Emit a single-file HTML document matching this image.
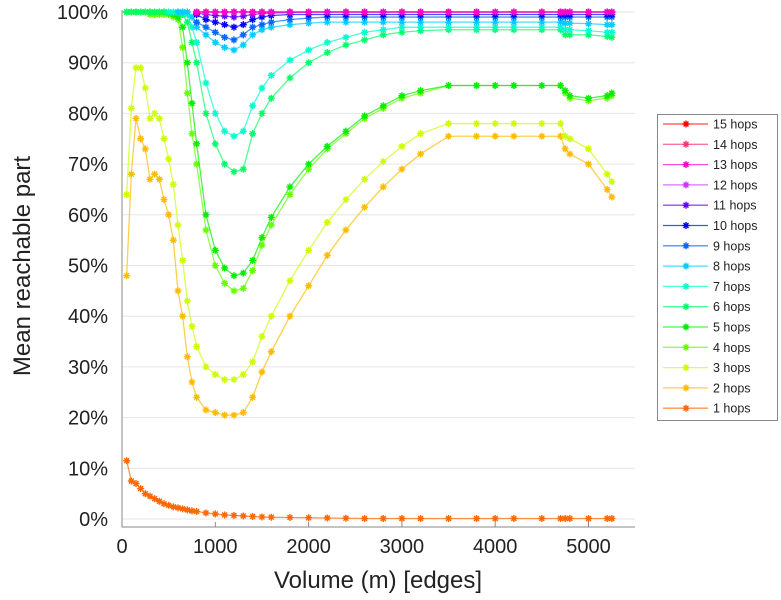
<!DOCTYPE html>
<html><head><meta charset="utf-8">
<style>
body{margin:0;background:#fff;}
svg{display:block;font-family:"Liberation Sans",sans-serif;}
</style></head>
<body>
<svg id="chart" width="781" height="600"></svg>
<script>
const xVals=[50,100,150,200,250,300,350,400,450,500,550,600,650,700,750,800,900,1000,1100,1200,1300,1400,1500,1600,1800,2000,2200,2400,2600,2800,3000,3200,3500,3800,4000,4200,4500,4700,4750,4800,5000,5200,5250];
const s1=[11.5,7.5,7,6,5,4.5,4,3.5,3,2.7,2.4,2.2,2,1.8,1.6,1.5,1.2,1,0.8,0.7,0.6,0.5,0.4,0.35,0.3,0.25,0.2,0.15,0.1,0.1,0.1,0.1,0.1,0.1,0.1,0.1,0.1,0.1,0.1,0.1,0.1,0.1,0.1];
const s2=[48,68,79,75,73,67,68,67,63,60,55,45,40,32,27,24,21.5,21,20.5,20.5,21,24,29,33,40,46,52,57,61.5,65.5,69,72,75.5,75.5,75.5,75.5,75.5,75.5,73,72,70,65,63.5];
const s3=[64,81,89,89,85,79,80,79,75,71,66,58,51,43,38,34,30,28.5,27.5,27.5,28.5,31,36,40,47,53,58.5,63,67,70.5,73.5,76,78,78,78,78,78,78,75.5,75,73,68,66.5];
const s4=[100,100,100,100,100,99.5,99.5,99.5,99.5,99.5,99,98.5,93,84,76,70,57,50,46.5,45,45.5,49,54,58,64,69,73,76,79,81,83,84,85.5,85.5,85.5,85.5,85.5,85.5,84,83,82.5,83,83.5];
const s5=[100,100,100,100,100,100,100,100,100,99.8,99.5,99,97,90,82,74,60,53,49.5,48,48.5,51,55.5,59.5,65.5,70,73.5,76.5,79.5,81.5,83.5,84.5,85.5,85.5,85.5,85.5,85.5,85.5,84.5,83.5,83,83.5,84];
const s6=[100,100,100,100,100,100,100,100,100,100,99.8,99.7,99.5,98,94,90,80,74,70,68.5,69,76,80,83,87,90,92,93.5,94.5,95.5,96,96.3,96.5,96.5,96.5,96.5,96.5,96.5,95.5,95.5,95.5,95.2,95];
const s7=[null,null,null,null,null,null,null,null,null,100,100,100,100,99.5,97,94,86,80,76.5,75.5,76.5,81.5,85,87.5,90.5,92.5,94,95,96,96.5,97,97,97,97,97,97,97,97,96.5,96.5,96.3,96,96];
const s8=[null,null,null,null,null,null,null,null,null,null,null,100,100,100,99,97,95.5,94,93,92.5,93.5,95.5,96.5,97,97.5,97.8,98,98,98,98,98,98,98,98,98,98,98,98,97.8,97.8,97.7,97.5,97.5];
const s9=[null,null,null,null,null,null,null,null,null,null,null,null,null,null,null,98,97,96,95,94.5,95.5,97,97.5,98,98.5,98.8,99,99,99,99,99,99,99,99,99,99,99,99,99,99,99,99,99];
const s10=[null,null,null,null,null,null,null,null,null,null,null,null,null,null,null,99.5,98.5,98,97.5,97,97.5,98.5,99,99.3,99.5,99.5,99.5,99.5,99.5,99.5,99.5,99.5,99.5,99.5,99.5,99.5,99.5,99.5,99.5,99.5,99.5,99.5,99.5];
const s11=[null,null,null,null,null,null,null,null,null,null,null,null,null,null,null,99.8,99.5,99.3,99.2,99,99.2,99.5,99.7,99.8,99.9,100,100,100,100,100,100,100,100,100,100,100,100,100,100,100,100,100,100];
const s12=[null,null,null,null,null,null,null,null,null,null,null,null,null,null,null,100,100,100,100,100,100,100,100,100,100,100,100,100,100,100,100,100,100,100,100,100,100,100,100,100,100,100,100];
const s13=s12.slice(), s14=s12.slice(), s15=s12.slice();
const seriesNames=["15 hops","14 hops","13 hops","12 hops","11 hops","10 hops","9 hops","8 hops","7 hops","6 hops","5 hops","4 hops","3 hops","2 hops","1 hops"];
const seriesData=[s15,s14,s13,s12,s11,s10,s9,s8,s7,s6,s5,s4,s3,s2,s1];
const seriesColors=["#ff0000","#ff3377","#ff00cc","#cc33ff","#6600ff","#0000ff","#0066ff","#00ccff","#00ffcc","#00ff66","#00ee00","#66ff00","#ccff00","#ffbb00","#ff6600"];
const drawOrder=[14,13,12,11,10,9,8,7,6,5,4,0,1,3,2];
const xTicks=[0,1000,2000,3000,4000,5000];
const yTicks=[0,10,20,30,40,50,60,70,80,90,100];

const NS="http://www.w3.org/2000/svg";
const svg=document.getElementById('chart');
const X0=122,XS=0.0933,Y0=519,YS=5.07;
const sx=v=>X0+v*XS, sy=v=>Y0-v*YS;
function mk(tag,attrs,parent){const e=document.createElementNS(NS,tag);for(const k in attrs)e.setAttribute(k,attrs[k]);(parent||svg).appendChild(e);return e;}

const grid=mk('g',{});


yTicks.forEach(t=>{
  const l=mk('line',{x1:122,x2:635,y1:sy(t),y2:sy(t),stroke:'#e6e6e6','stroke-width':1},grid);
  
  
  const tx=mk('text',{x:108,y:sy(t)+7,'text-anchor':'end','font-size':20,fill:'#222'});
  tx.textContent=t+'%';
  
  
});
xTicks.forEach(t=>{
  const tx=mk('text',{x:sx(t),y:553,'text-anchor':'middle','font-size':20,fill:'#222'});
  tx.textContent=t;
  
  
  const tk=mk('line',{x1:sx(t),x2:sx(t),y1:527,y2:522,stroke:'#888'});
  
  
});
const ax=mk('path',{d:'M122,10 V527 H635',fill:'none',stroke:'#888','stroke-width':1});



function star(g,x,y,c){
  const r=3.5;
  mk('path',{d:`M${x-r},${y}H${x+r}M${x},${y-r}V${y+r}M${x-r*0.7},${y-r*0.7}L${x+r*0.7},${y+r*0.7}M${x-r*0.7},${y+r*0.7}L${x+r*0.7},${y-r*0.7}`,stroke:c,'stroke-width':1.4,fill:'none'},g);
}
drawOrder.forEach(i=>{
  const d=seriesData[i],c=seriesColors[i];
  const g=mk('g',{});
  
  
  const pts=[];
  d.forEach((v,j)=>{if(v!==null)pts.push(sx(xVals[j])+','+sy(v));});
  mk('polyline',{points:pts.join(' '),fill:'none',stroke:c,'stroke-width':1.3,'stroke-opacity':0.7},g);
  d.forEach((v,j)=>{if(v!==null)star(g,sx(xVals[j]),sy(v),c);});
});
const leg=mk('g',{});


mk('rect',{x:657.5,y:114.5,width:120,height:306,fill:'#fff',stroke:'#888'},leg);
seriesNames.forEach((n,i)=>{
  const y=124+i*20.3;
  const e=mk('g',{},leg);
  
  
  mk('line',{x1:663,x2:708,y1:y,y2:y,stroke:seriesColors[i],'stroke-width':1.3,'stroke-opacity':0.7},e);
  star(e,686,y,seriesColors[i]);
  const t=mk('text',{x:713,y:y+4.5,'font-size':12.5,fill:'#222'},e);
  t.textContent=n;
});
const yt=mk('text',{x:0,y:0,transform:'translate(30,266) rotate(-90)','text-anchor':'middle','font-size':24,fill:'#222'});
yt.textContent='Mean reachable part';


const xt=mk('text',{x:378,y:588,'text-anchor':'middle','font-size':24,fill:'#222'});
xt.textContent='Volume (m) [edges]';


</script>
</body></html>
